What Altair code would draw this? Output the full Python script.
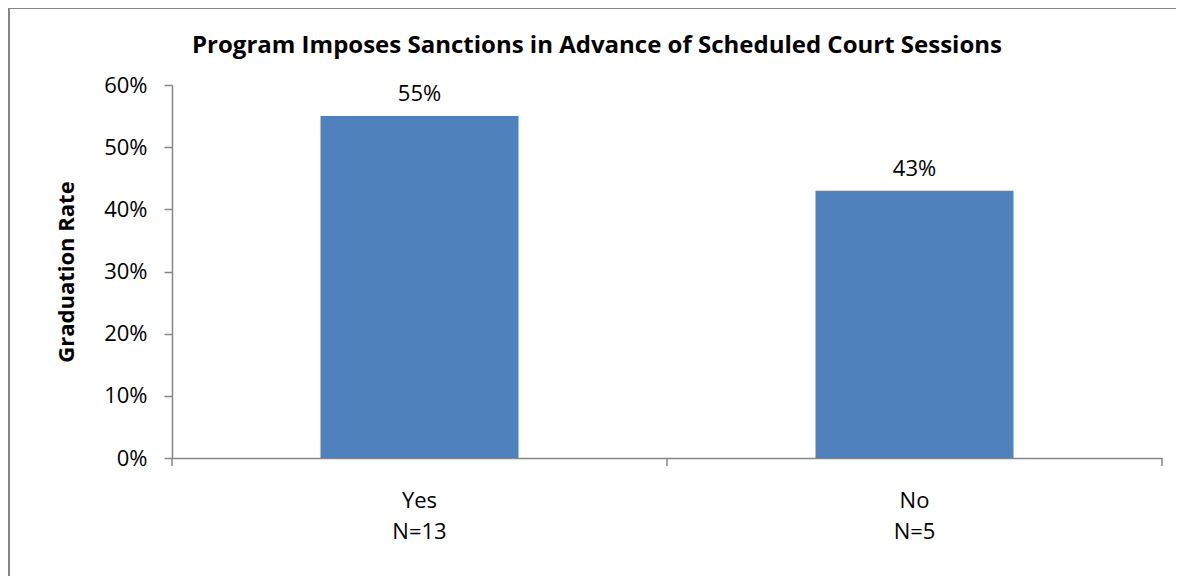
import altair as alt
import pandas as pd

categories = ["Yes\nN=13", "No\nN=5"]
rates = [0.55, 0.43]
bar_labels = ["55%", "43%"]
boundaries = [0, 1, 2]
y_ticks = [0, 0.1, 0.2, 0.3, 0.4, 0.5, 0.6]

W, H = 990, 373
FONT = "Open Sans"
AXIS = "#868686"
BAR = "#4F81BD"

df = pd.DataFrame({"cat": categories, "rate": rates, "label": bar_labels})
bdf = pd.DataFrame({"b": boundaries})
one = pd.DataFrame({"a": [0]})

x = alt.X(
    "cat:N", sort=categories,
    scale=alt.Scale(paddingInner=0.6, paddingOuter=0.3),
    axis=alt.Axis(title=None, labelAngle=0, ticks=False, domainColor=AXIS, domainWidth=1.5,
                  labelExpr="split(datum.label, '\\n')", labelPadding=32,
                  labelFont=FONT, labelFontSize=22, labelLineHeight=31, labelColor="black"),
)
y = alt.Y(
    "rate:Q", scale=alt.Scale(domain=[0, 0.6]),
    axis=alt.Axis(values=y_ticks, format=".0%", grid=False, tickSize=8, tickColor=AXIS,
                  domainColor=AXIS, domainWidth=1.5, tickWidth=1.5, labelPadding=17,
                  labelFont=FONT, labelFontSize=22, labelColor="black",
                  title="Graduation Rate", titleFont=FONT, titleFontSize=22,
                  titleFontWeight="bold", titleColor="black", titlePadding=25),
)

bars = alt.Chart(df).mark_bar(color=BAR).encode(x=x, y=y)
text = alt.Chart(df).mark_text(font=FONT, fontSize=22, color="black", dy=-15,
                               baseline="alphabetic").encode(x=x, y=y, text="label:N")
main = alt.layer(bars, text)

ticks = alt.Chart(bdf).mark_rule(color=AXIS, strokeWidth=1.5).encode(
    x=alt.X("b:Q", scale=alt.Scale(domain=[0, 2], nice=False, zero=False), axis=None),
    y=alt.value(H), y2=alt.value(H + 8),
)
border_top = alt.Chart(one).mark_rule(color=AXIS, strokeWidth=2).encode(
    x=alt.value(-164), x2=alt.value(W + 500), y=alt.value(-77)
)
border_left = alt.Chart(one).mark_rule(color=AXIS, strokeWidth=2).encode(
    x=alt.value(-163), y=alt.value(-78), y2=alt.value(H + 500)
)

chart = alt.layer(border_top, border_left, main, ticks).resolve_scale(x="independent").properties(
    width=W, height=H,
    title=alt.TitleParams("Program Imposes Sanctions in Advance of Scheduled Court Sessions",
                          font=FONT, fontSize=24, fontWeight="bold", color="black",
                          anchor="middle", frame="group", dx=-70, offset=0, dy=52),
    autosize=alt.AutoSizeParams(type="none"),
    padding={"left": 164, "top": 77, "right": 14, "bottom": 118},
).configure(background="white").configure_view(stroke="transparent", strokeWidth=0)

chart.save("out.html", embed_options={"renderer": "svg", "actions": False})
